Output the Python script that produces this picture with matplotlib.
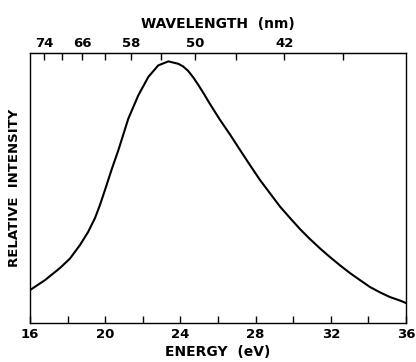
import matplotlib
matplotlib.use("Agg")
import matplotlib.pyplot as plt
import numpy as np

plt.rcParams['font.family'] = ['DejaVu Sans']
plt.rcParams['font.weight'] = 'bold'

energy_ev = [16.0, 16.80, 17.60, 18.13, 18.66, 19.09, 19.46, 19.72, 19.99, 20.35,
             20.70, 21.23, 21.76, 22.29, 22.82, 23.36, 23.89, 24.15, 24.42, 24.68,
             24.95, 25.24, 25.53, 25.82, 26.11, 26.64, 27.17, 27.70, 28.23, 28.77,
             29.30, 29.83, 30.36, 30.89, 31.43, 31.96, 32.50, 33.02, 33.55, 34.09,
             34.63, 35.15, 35.69, 36.0]
intensity = [0.122, 0.159, 0.204, 0.239, 0.289, 0.337, 0.389, 0.437, 0.493, 0.570,
             0.640, 0.757, 0.843, 0.911, 0.954, 0.969, 0.960, 0.950, 0.933, 0.910,
             0.882, 0.850, 0.816, 0.784, 0.752, 0.698, 0.641, 0.585, 0.530, 0.480,
             0.431, 0.389, 0.348, 0.311, 0.276, 0.244, 0.213, 0.185, 0.159, 0.133,
             0.113, 0.096, 0.083, 0.074]

energy_ticks = [16, 18, 20, 22, 24, 26, 28, 30, 32, 34, 36]
energy_labels = ['16', '', '20', '', '24', '', '28', '', '32', '', '36']
wl_ticks = [74, 70, 66, 62, 58, 54, 50, 46, 42, 38]
wl_labels = ['74', '', '66', '', '58', '', '50', '', '42', '']

HC = 1239.84

fig = plt.figure(figsize=(4.16, 3.62), dpi=100)
ax = fig.add_axes([30/416, 1 - 323/362, 376/416, 270/362])
ax.plot(energy_ev, intensity, color='black', lw=1.5, solid_joinstyle='round')
ax.set_xlim(16, 36)
ax.set_ylim(0, 1)
ax.set_yticks([])
ax.set_xticks(energy_ticks)
ax.set_xticklabels(energy_labels)
ax.tick_params(axis='x', direction='in', length=5, width=1, labelsize=9.5, pad=3.5)
for s in ax.spines.values():
    s.set_linewidth(1.0)
ax.set_xlabel('ENERGY  (eV)', fontsize=10, fontweight='bold', labelpad=3)
ax.set_ylabel('RELATIVE  INTENSITY', fontsize=9.5, fontweight='bold', labelpad=6.5)

def e2w(e):
    e = np.asarray(e, dtype=float)
    with np.errstate(divide='ignore'):
        return HC / e

sec = ax.secondary_xaxis('top', functions=(e2w, e2w))
sec.set_xticks(wl_ticks)
sec.set_xticklabels(wl_labels)
sec.tick_params(axis='x', direction='in', length=5, width=1, labelsize=9.5, pad=2.5)
sec.set_xlabel('WAVELENGTH  (nm)', fontsize=10, fontweight='bold', labelpad=6)

fig.savefig('out.png', dpi=100)
